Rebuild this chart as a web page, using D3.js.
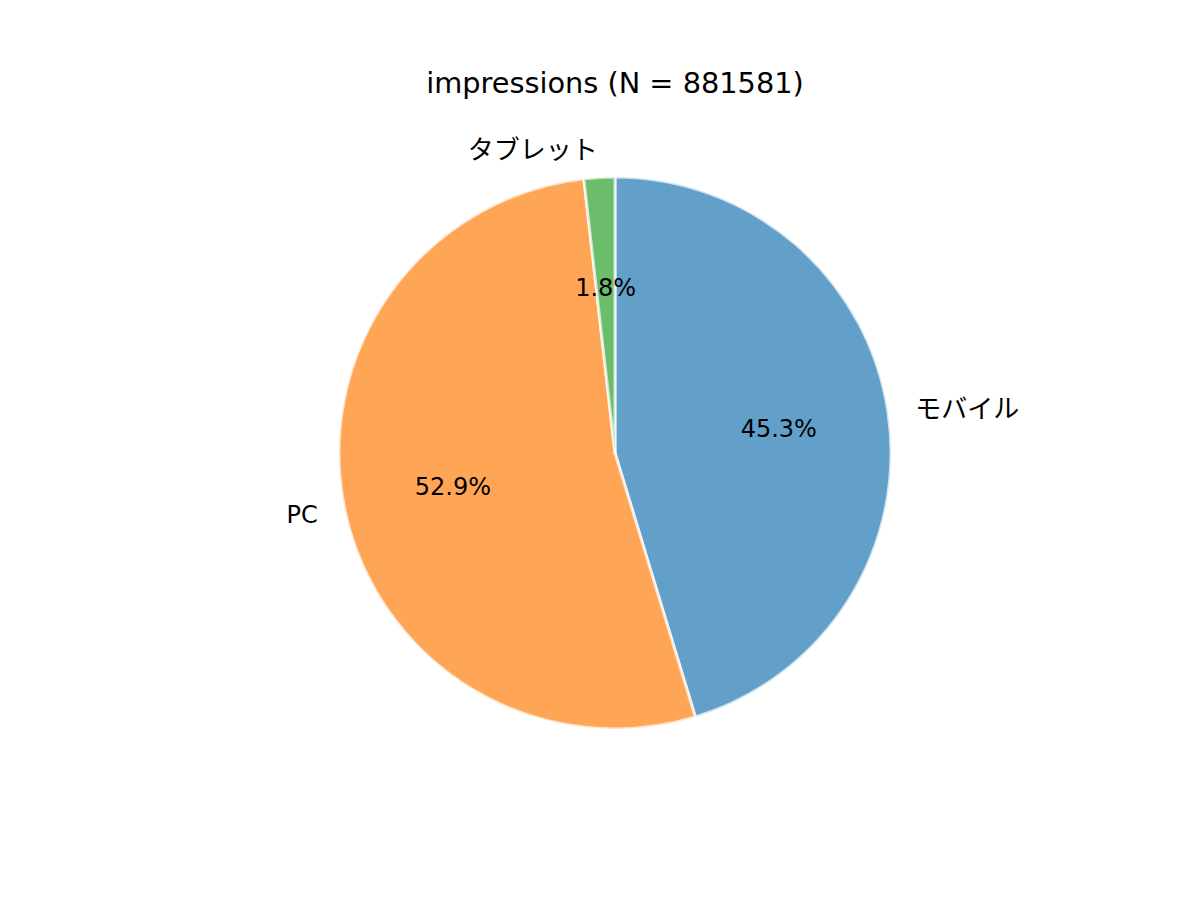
<!DOCTYPE html>
<html>
<head>
<meta charset="utf-8">
<script src="https://cdn.jsdelivr.net/npm/d3@7"></script>
<style>
  body { margin: 0; background: #fff; }
  text { font-family: "DejaVu Sans", "Noto Sans CJK JP", sans-serif; fill: #000; }
</style>
</head>
<body>
<div class="chart"></div>
<script>
// data
const labels = ["モバイル", "PC", "タブレット"];
const shares = [45.3, 52.9, 1.8];
const colors = ["#1f77b4", "#ff7f0e", "#2ca02c"];
const total = 881581;

const width = 1200,
      height = 900;
const cx = 615, cy = 453, radius = 276;
const fontSize = 24;

const svg = d3.select(".chart").append("svg")
    .attr("width", width)
    .attr("height", height);

svg.append("text")
    .attr("x", cx)
    .attr("y", 93)
    .attr("text-anchor", "middle")
    .style("font-size", (fontSize * 1.2) + "px")
    .text(`impressions (N = ${total})`);

// clockwise from the top, like matplotlib startangle=90, counterclock=False
const pie = d3.pie().sort(null).value(d => d);
const arcs = pie(shares);
const arc = d3.arc().innerRadius(0).outerRadius(radius);

const g = svg.append("g").attr("transform", `translate(${cx},${cy})`);

g.selectAll("path")
    .data(arcs)
    .join("path")
    .attr("d", arc)
    .attr("fill", (d, i) => colors[i])
    .attr("fill-opacity", 0.7)
    .attr("stroke", "#fff")
    .attr("stroke-opacity", 0.7)
    .attr("stroke-width", 3)
    .attr("stroke-linejoin", "round");

const mid = d => (d.startAngle + d.endAngle) / 2;
// the japanese glyphs in the original run a bit wider
const isCJK = s => /[^\x00-\x7F]/.test(s);

// outer labels at 1.1 r
g.selectAll(".lab")
    .data(arcs)
    .join("text")
    .attr("class", "lab")
    .attr("x", d => Math.sin(mid(d)) * radius * 1.1)
    .attr("y", d => -Math.cos(mid(d)) * radius * 1.1)
    .attr("dy", "0.36em")
    .attr("text-anchor", d => Math.sin(mid(d)) >= 0 ? "start" : "end")
    .style("font-size", (d, i) => (isCJK(labels[i]) ? 26 : fontSize) + "px")
    .text((d, i) => labels[i]);

// percent labels at 0.6 r
g.selectAll(".pct")
    .data(arcs)
    .join("text")
    .attr("class", "pct")
    .attr("x", d => Math.sin(mid(d)) * radius * 0.6)
    .attr("y", d => -Math.cos(mid(d)) * radius * 0.6)
    .attr("dy", "0.36em")
    .attr("text-anchor", "middle")
    .style("font-size", fontSize + "px")
    .text(d => d.data.toFixed(1) + "%");
</script>
</body>
</html>
